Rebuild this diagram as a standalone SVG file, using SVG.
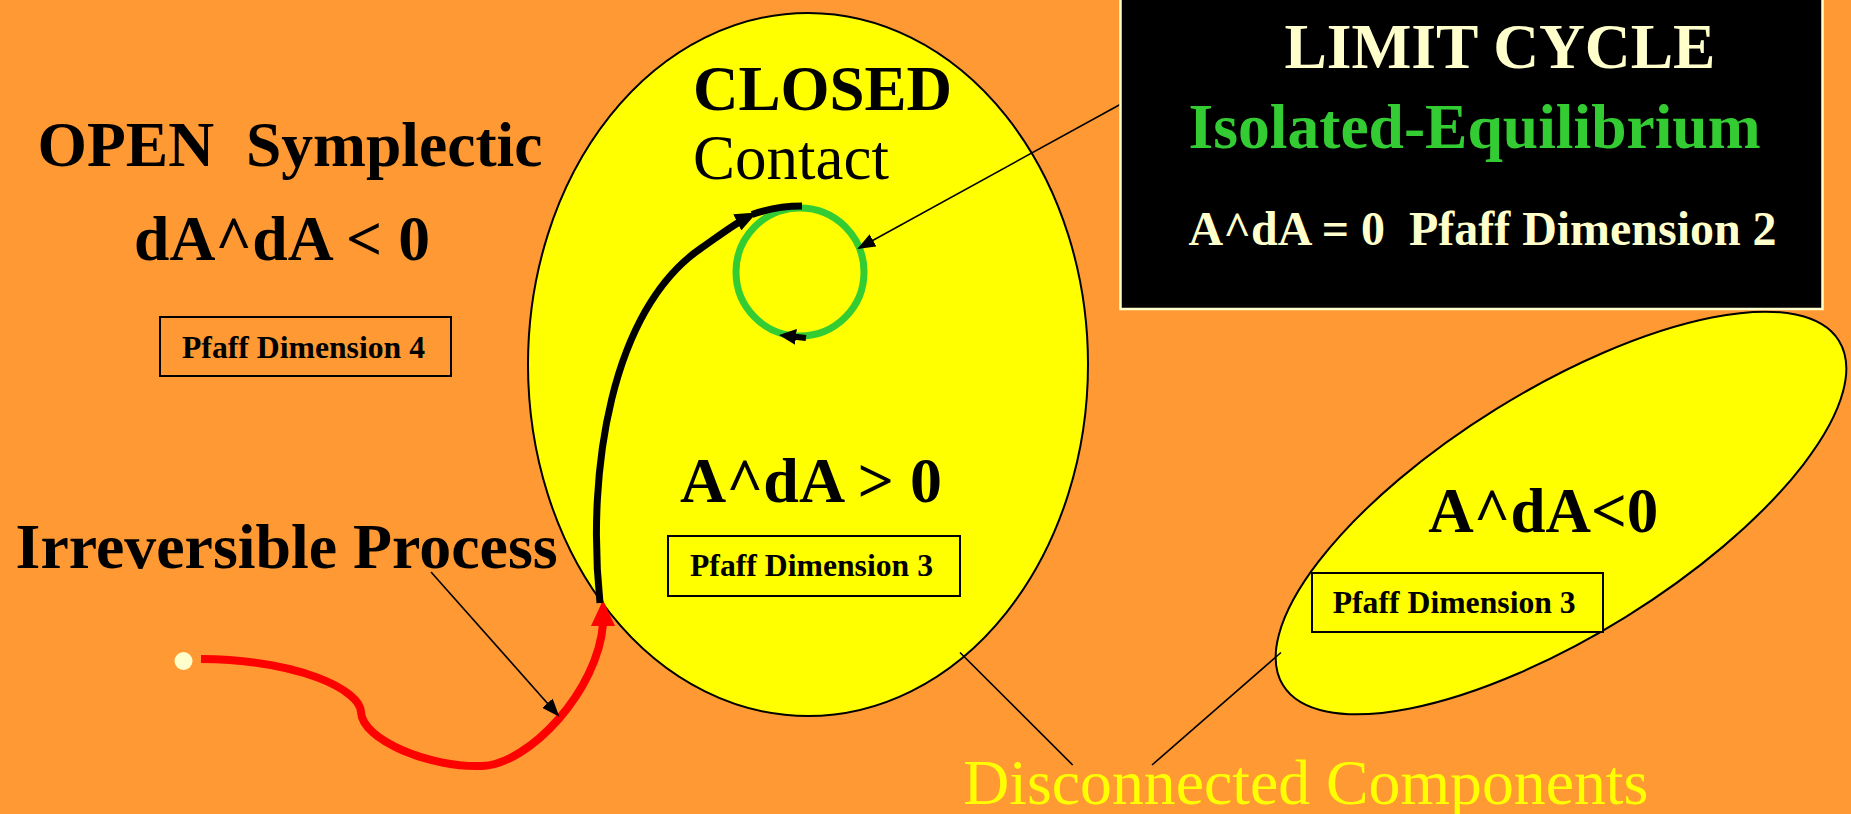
<svg xmlns="http://www.w3.org/2000/svg" width="1851" height="814" viewBox="0 0 1851 814">
<style>
.t{font-family:"Liberation Serif","Times New Roman",serif;font-weight:bold;fill:#000}
.r{font-weight:normal}
.cream{fill:#FFFFCC}
.green{fill:#33CC33}
.yel{fill:#FFFF00}
.region{fill:#FFFF00;stroke:#000;stroke-width:2}
.pbox{fill:none;stroke:#000;stroke-width:2}
.thin{fill:none;stroke:#000;stroke-width:1.6}
</style>
<defs>
<marker id="arrowThin" markerUnits="userSpaceOnUse" markerWidth="18" markerHeight="14" refX="16" refY="7" orient="auto"><path d="M0,0 L18,7 L0,14 z" fill="#000"/></marker>
<marker id="arrowBlk" markerUnits="userSpaceOnUse" markerWidth="22" markerHeight="18" refX="12" refY="9" orient="auto"><path d="M0,0 L22,9 L0,18 z" fill="#000"/></marker>
<marker id="arrowSm" markerUnits="userSpaceOnUse" markerWidth="17" markerHeight="16" refX="8" refY="8" orient="auto"><path d="M0,0 L17,8 L0,16 z" fill="#000"/></marker>
</defs>
<rect x="0" y="0" width="1851" height="814" fill="#FF9933"/>

<g id="open-region">
<text class="t" x="37.5" y="166" font-size="64" textLength="505" lengthAdjust="spacingAndGlyphs">OPEN&#160; Symplectic</text>
<text class="t" x="134" y="260" font-size="63" textLength="296" lengthAdjust="spacingAndGlyphs">dA^dA &lt; 0</text>
<rect class="pbox" x="160" y="317" width="291" height="59"/>
<text class="t" x="182" y="357.7" font-size="32" textLength="243" lengthAdjust="spacingAndGlyphs">Pfaff Dimension 4</text>
</g>

<g id="closed-region">
<ellipse class="region" cx="808" cy="364.5" rx="280" ry="351.5"/>
<text class="t" x="693" y="110" font-size="63" textLength="259" lengthAdjust="spacingAndGlyphs">CLOSED</text>
<text class="t r" x="693" y="179" font-size="63" textLength="196" lengthAdjust="spacingAndGlyphs">Contact</text>
<text class="t" x="680" y="501.7" font-size="63" textLength="262" lengthAdjust="spacingAndGlyphs">A^dA &gt; 0</text>
<rect class="pbox" x="668" y="536" width="292" height="60"/>
<text class="t" x="690" y="576" font-size="32" textLength="243" lengthAdjust="spacingAndGlyphs">Pfaff Dimension 3</text>
</g>

<g id="negative-region">
<ellipse class="region" cx="1561" cy="513" rx="327" ry="122.5" transform="rotate(-31.8 1561 513)"/>
<text class="t" x="1428.3" y="531.7" font-size="63" textLength="230" lengthAdjust="spacingAndGlyphs">A^dA&lt;0</text>
<rect x="1312" y="573" width="291" height="59" fill="#FFFF00" stroke="#000" stroke-width="2"/>
<text class="t" x="1332.7" y="613.3" font-size="32" textLength="243" lengthAdjust="spacingAndGlyphs">Pfaff Dimension 3</text>
</g>

<g id="limit-cycle">
<circle cx="800" cy="272" r="64" fill="none" stroke="#33CC33" stroke-width="7"/>
</g>

<g id="start-point">
<circle cx="183.5" cy="661" r="9" fill="#FFFFCC"/>
</g>

<g id="irreversible-label">
<text class="t" x="15.6" y="568.3" font-size="63" textLength="542" lengthAdjust="spacingAndGlyphs">Irreversible Process</text>
</g>

<g id="disconnected-label">
<text class="t r yel" x="963.3" y="804" font-size="64" textLength="685" lengthAdjust="spacingAndGlyphs">Disconnected Components</text>
</g>

<g id="connectors">
<path d="M201,659 C300,660 360,690 361,712 C362,740 430,768 482,766 C530,764 598,690 603,624" fill="none" stroke="#FF0000" stroke-width="8"/>
<polygon points="603,600 591,626 615,626" fill="#FF0000"/>
<path d="M600,603 C586,470 612,310 700,249 C716,238 734,224 748,217" fill="none" stroke="#000" stroke-width="7" marker-end="url(#arrowBlk)"/>
<path d="M752,214.5 C770,208 786,206 802,206" fill="none" stroke="#000" stroke-width="7"/>
<path d="M806,338 L788,336" fill="none" stroke="#000" stroke-width="6" marker-end="url(#arrowSm)"/>
<line class="thin" x1="1121" y1="104" x2="859" y2="248" marker-end="url(#arrowThin)"/>
<line class="thin" x1="431" y1="572" x2="558" y2="715.2" marker-end="url(#arrowThin)"/>
<line class="thin" x1="960" y1="652.5" x2="1072.7" y2="765"/>
<line class="thin" x1="1281" y1="652.5" x2="1152" y2="765"/>
</g>

<g id="limit-cycle-box">
<rect x="1120.5" y="-5" width="702" height="314" fill="#000" stroke="#FFFFCC" stroke-width="2.5"/>
<text class="t cream" x="1284.4" y="68.3" font-size="63" textLength="431" lengthAdjust="spacingAndGlyphs">LIMIT CYCLE</text>
<text class="t green" x="1188.6" y="147.7" font-size="63" textLength="572" lengthAdjust="spacingAndGlyphs">Isolated-Equilibrium</text>
<text class="t cream" x="1188.6" y="245" font-size="48" textLength="588" lengthAdjust="spacingAndGlyphs">A^dA = 0&#160; Pfaff Dimension 2</text>
</g>
</svg>
